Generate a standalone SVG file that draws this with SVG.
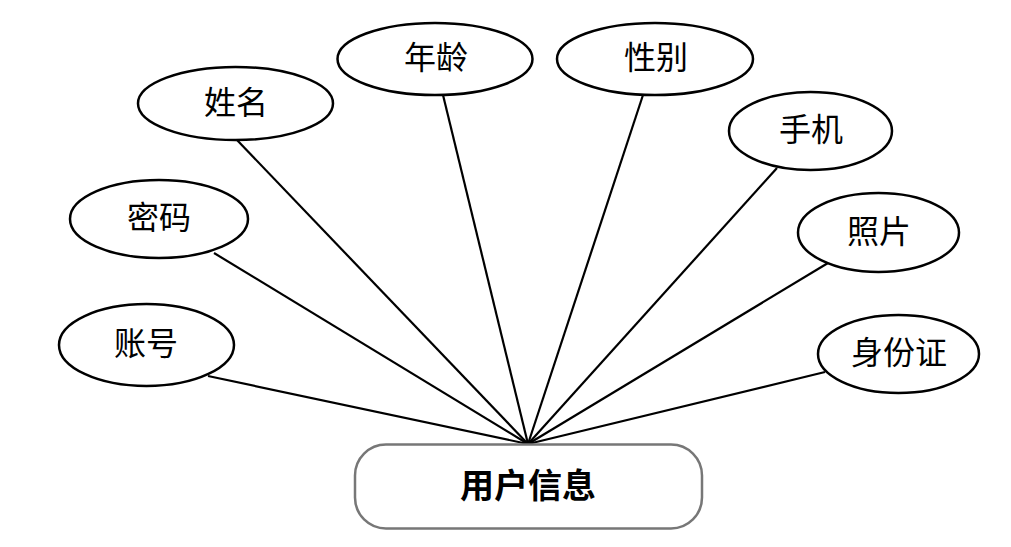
<svg xmlns="http://www.w3.org/2000/svg" width="1011" height="547" viewBox="0 0 1011 547">
<style>
.attr ellipse{fill:#fff;stroke:#000;stroke-width:2.5}
.lbl{font-family:"Liberation Serif","Noto Sans CJK SC",serif;font-size:32px;fill:#000;text-anchor:middle;dominant-baseline:central}
.conn line{stroke:#000;stroke-width:2.2}
</style>
<rect width="1011" height="547" fill="#fff"/>
<g id="connectors" class="conn">
<line x1="208" y1="376" x2="528" y2="444"/>
<line x1="214" y1="253" x2="528" y2="444"/>
<line x1="237" y1="140" x2="528" y2="444"/>
<line x1="443" y1="95" x2="528" y2="444"/>
<line x1="643" y1="95" x2="528" y2="444"/>
<line x1="777" y1="168" x2="528" y2="444"/>
<line x1="828" y1="263" x2="528" y2="444"/>
<line x1="825" y1="372" x2="528" y2="444"/>
</g>
<g id="zhanghao" class="attr"><ellipse cx="146.5" cy="345" rx="87.5" ry="41"/><text class="lbl" x="146" y="344">账号</text></g>
<g id="mima" class="attr"><ellipse cx="159" cy="219" rx="89" ry="39"/><text class="lbl" x="159" y="218">密码</text></g>
<g id="xingming" class="attr"><ellipse cx="235.5" cy="103.5" rx="97.5" ry="36.5"/><text class="lbl" x="236" y="103">姓名</text></g>
<g id="nianling" class="attr"><ellipse cx="435" cy="59" rx="97.5" ry="36"/><text class="lbl" x="436" y="58">年龄</text></g>
<g id="xingbie" class="attr"><ellipse cx="655" cy="59" rx="98" ry="36"/><text class="lbl" x="656" y="58">性别</text></g>
<g id="shouji" class="attr"><ellipse cx="810.5" cy="131" rx="81.5" ry="39"/><text class="lbl" x="811" y="130">手机</text></g>
<g id="zhaopian" class="attr"><ellipse cx="878.5" cy="232.5" rx="80.5" ry="39.5"/><text class="lbl" x="879" y="232">照片</text></g>
<g id="shenfenzheng" class="attr"><ellipse cx="898.5" cy="354" rx="80.5" ry="39"/><text class="lbl" x="899" y="353">身份证</text></g>
<g id="yonghuxinxi"><rect x="355" y="444.5" width="347" height="84" rx="31" ry="31" fill="#fff" stroke="#777" stroke-width="2.5"/><text class="lbl" x="528" y="486" style="font-size:34px;font-weight:bold">用户信息</text></g>
</svg>
